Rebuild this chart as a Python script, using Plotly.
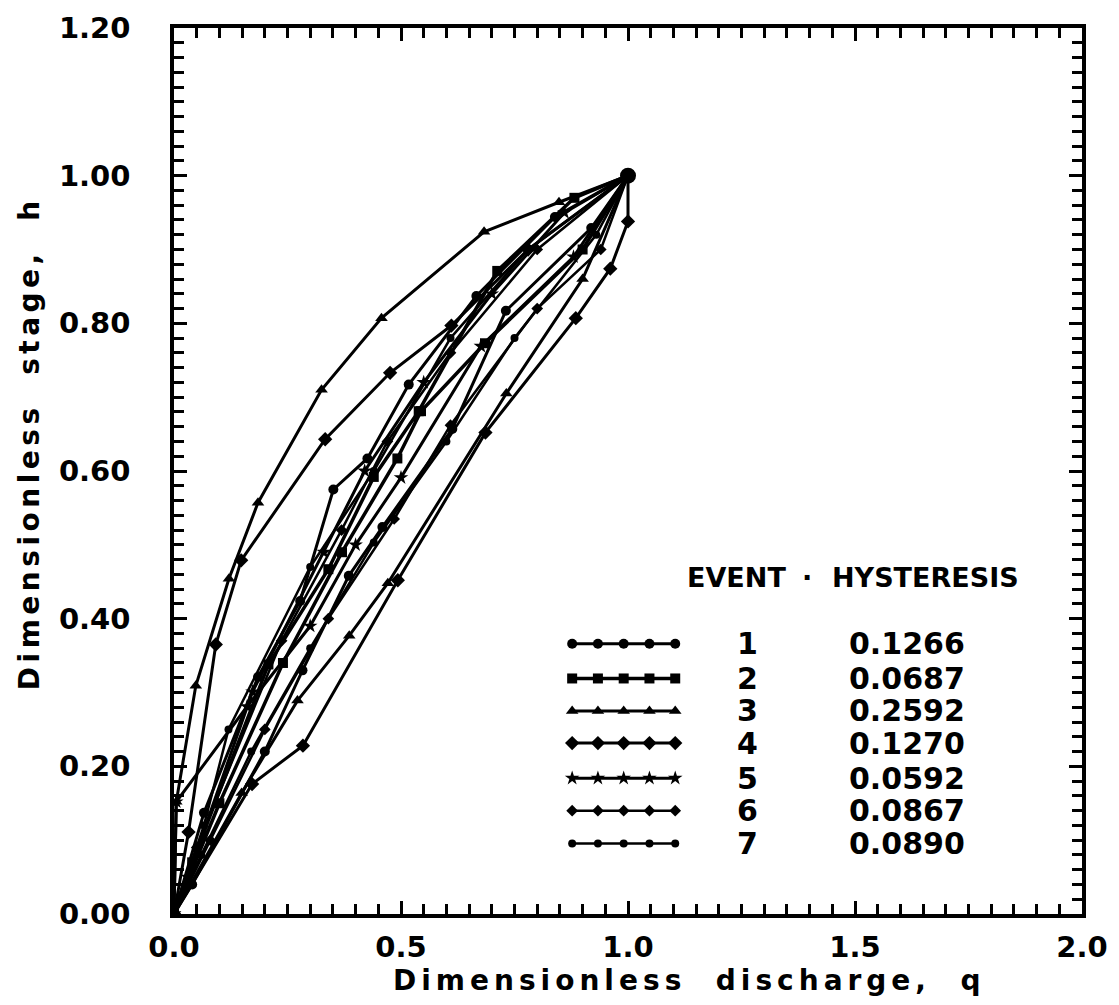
import plotly.graph_objects as go

# ---------------- data ----------------
EVENTS = ["1", "2", "3", "4", "5", "6", "7"]
HYSTERESIS = ["0.1266", "0.0687", "0.2592", "0.1270", "0.0592", "0.0867", "0.0890"]

# event 1
e1_q = [0, 0.066, 0.185, 0.278, 0.351, 0.426, 0.517, 0.666, 0.839, 1.0,
        0.919, 0.731, 0.613, 0.459, 0.385, 0.283, 0.20, 0.04, 0]
e1_h = [0, 0.137, 0.321, 0.424, 0.575, 0.617, 0.717, 0.837, 0.944, 1.0,
        0.929, 0.817, 0.657, 0.524, 0.458, 0.33, 0.22, 0.04, 0]
# event 2
e2_q = [0, 0.04, 0.208, 0.34, 0.44, 0.539, 0.712, 0.882, 1.0,
        0.90, 0.685, 0.544, 0.492, 0.37, 0.24, 0.10, 0]
e2_h = [0, 0.07, 0.338, 0.467, 0.592, 0.681, 0.871, 0.97, 1.0,
        0.90, 0.773, 0.681, 0.617, 0.49, 0.34, 0.15, 0]
# event 3
e3_q = [0, 0.005, 0.048, 0.121, 0.185, 0.325, 0.457, 0.683, 0.848, 1.0,
        0.90, 0.732, 0.471, 0.386, 0.272, 0.149, 0]
e3_h = [0, 0.152, 0.309, 0.454, 0.557, 0.71, 0.807, 0.924, 0.964, 1.0,
        0.86, 0.705, 0.448, 0.377, 0.289, 0.164, 0]
# event 4
e4_q = [0, 0.032, 0.092, 0.148, 0.333, 0.476, 0.611, 0.78, 1.0,
        1.0, 0.961, 0.885, 0.686, 0.493, 0.284, 0.172, 0]
e4_h = [0, 0.111, 0.365, 0.479, 0.643, 0.733, 0.797, 0.90, 1.0,
        0.938, 0.874, 0.807, 0.652, 0.452, 0.228, 0.176, 0]
# event 5
e5_q = [0, 0.03, 0.173, 0.33, 0.42, 0.55, 0.70, 0.86, 1.0,
        0.88, 0.676, 0.50, 0.40, 0.30, 0.161, 0.005, 0]
e5_h = [0, 0.05, 0.301, 0.49, 0.60, 0.72, 0.84, 0.95, 1.0,
        0.89, 0.769, 0.591, 0.50, 0.39, 0.281, 0.152, 0]
# event 6
e6_q = [0, 0.05, 0.237, 0.369, 0.47, 0.609, 0.80, 1.0,
        0.94, 0.80, 0.609, 0.485, 0.34, 0.20, 0.08, 0]
e6_h = [0, 0.09, 0.37, 0.52, 0.64, 0.76, 0.90, 1.0,
        0.90, 0.82, 0.662, 0.535, 0.40, 0.25, 0.10, 0]
# event 7
e7_q = [0, 0.066, 0.12, 0.30, 0.44, 0.609, 0.78, 1.0,
        0.93, 0.75, 0.60, 0.44, 0.30, 0.17, 0.06, 0]
e7_h = [0, 0.12, 0.25, 0.47, 0.60, 0.78, 0.90, 1.0,
        0.92, 0.78, 0.64, 0.503, 0.36, 0.22, 0.08, 0]

PEAK_Q = [1.0]
PEAK_H = [1.0]

SERIES_Q = [e1_q, e2_q, e3_q, e4_q, e5_q, e6_q, e7_q]
SERIES_H = [e1_h, e2_h, e3_h, e4_h, e5_h, e6_h, e7_h]

X_TICKS = [0, 0.5, 1.0, 1.5, 2.0]
X_TICKTEXT = ["0.0", "0.5", "1.0", "1.5", "2.0"]
Y_TICKS = [0, 0.2, 0.4, 0.6, 0.8, 1.0, 1.2]
Y_TICKTEXT = ["0.00", "0.20", "0.40", "0.60", "0.80", "1.00", "1.20"]

# ---------------- styles ----------------
SYMBOLS = ["circle", "square", "triangle-up", "diamond", "star", "diamond", "circle"]
SIZES = [10, 10, 11, 11, 11, 9, 8]
WIDTHS = [3, 3.5, 3, 3, 3, 2.5, 2.5]
FONT = "DejaVu Sans"
INK = "black"


def spaced(txt, px):
    return f'<span style="letter-spacing:{px}px">{txt}</span>'


fig = go.Figure()

for q, h, sym, sz, w in zip(SERIES_Q, SERIES_H, SYMBOLS, SIZES, WIDTHS):
    fig.add_trace(go.Scatter(x=q, y=h, mode="lines+markers",
                             line=dict(color=INK, width=w),
                             marker=dict(symbol=sym, size=sz, color=INK),
                             showlegend=False, hoverinfo="skip"))

fig.add_trace(go.Scatter(x=PEAK_Q, y=PEAK_H, mode="markers",
                         marker=dict(symbol="circle", size=16, color=INK),
                         showlegend=False, hoverinfo="skip"))

# ---------------- legend table (drawn inside the axes) ----------------
LEG_Q0, LEG_Q1 = 0.877, 1.104
LEG_ROWS_H = [0.366, 0.319, 0.275, 0.2315, 0.184, 0.140, 0.0956]
NUM_Q = 1.264
VAL_Q = 1.615
HEAD_H = 0.456

for i, (sym, sz, w) in enumerate(zip(SYMBOLS, SIZES, WIDTHS)):
    hh = LEG_ROWS_H[i]
    xs = [LEG_Q0 + k * (LEG_Q1 - LEG_Q0) / 4 for k in range(5)]
    fig.add_trace(go.Scatter(x=xs, y=[hh] * 5, mode="lines+markers",
                             line=dict(color=INK, width=w),
                             marker=dict(symbol=sym, size=sz, color=INK),
                             showlegend=False, hoverinfo="skip"))
    fig.add_annotation(x=NUM_Q, y=hh, xref="x", yref="y", text=EVENTS[i],
                       showarrow=False,
                       font=dict(family=FONT, size=30, color=INK, weight="bold"))
    fig.add_annotation(x=VAL_Q, y=hh, xref="x", yref="y", text=HYSTERESIS[i],
                       showarrow=False,
                       font=dict(family=FONT, size=30, color=INK, weight="bold"))

HEAD_FONT = dict(family=FONT, size=27, color=INK, weight="bold")
fig.add_annotation(x=1.24, y=HEAD_H, xref="x", yref="y", text="EVENT",
                   showarrow=False, font=HEAD_FONT)
fig.add_annotation(x=1.395, y=HEAD_H, xref="x", yref="y", text="·",
                   showarrow=False, font=HEAD_FONT)
fig.add_annotation(x=1.655, y=HEAD_H, xref="x", yref="y", text="HYSTERESIS",
                   showarrow=False, font=HEAD_FONT)

# ---------------- axis titles ----------------
TITLE_FONT = dict(family=FONT, size=28, color=INK, weight="bold")
fig.add_annotation(x=0.568, y=0, xref="paper", yref="paper", yshift=-66,
                   text=spaced("Dimensionless  discharge,  q", 5),
                   showarrow=False, font=TITLE_FONT, yanchor="middle")
fig.add_annotation(x=-0.159, y=0.531, xref="paper", yref="paper",
                   text=spaced("Dimensionless  stage,  h", 4.5), textangle=-90,
                   showarrow=False, font=TITLE_FONT, xanchor="center", yanchor="middle")

axis_common = dict(showline=True, linecolor=INK, linewidth=3.5, mirror="ticks",
                   ticks="inside", tickcolor=INK, tickwidth=3, ticklen=13,
                   showgrid=False, zeroline=False, automargin=False,
                   ticklabeloverflow="allow",
                   tickfont=dict(family=FONT, size=29, color=INK, weight="bold"))

fig.update_xaxes(range=[0, 2.0], tickvals=X_TICKS, ticktext=X_TICKTEXT,
                 minor=dict(dtick=0.05, ticks="inside", ticklen=10, tickwidth=3,
                            tickcolor=INK, showgrid=False),
                 ticklabelstandoff=4,
                 **axis_common)
fig.update_yaxes(range=[0, 1.2], tickvals=Y_TICKS, ticktext=Y_TICKTEXT,
                 minor=dict(dtick=0.02, ticks="inside", ticklen=10, tickwidth=3,
                            tickcolor=INK, showgrid=False),
                 ticklabelstandoff=34,
                 **axis_common)

# page body adds an 8 px margin, so the figure is sized to fit inside the window
fig.update_layout(width=1103, height=989,
                  margin=dict(l=166, r=29, t=20, b=83, autoexpand=False),
                  paper_bgcolor="white", plot_bgcolor="white",
                  showlegend=False)

fig.write_html("out.html")
